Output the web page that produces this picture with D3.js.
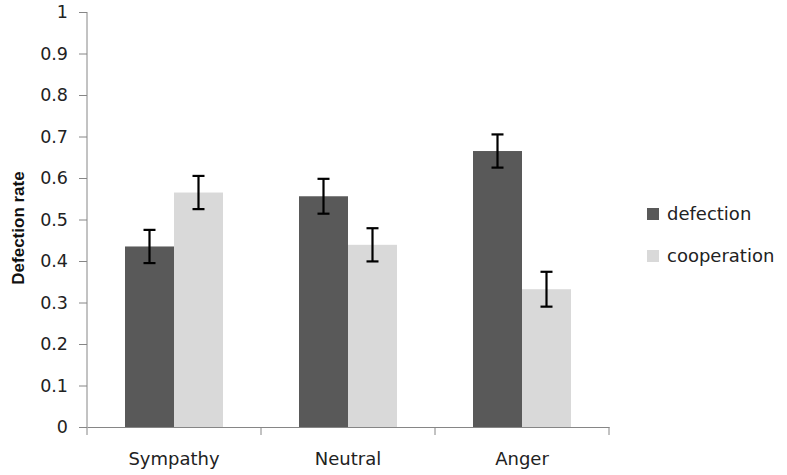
<!DOCTYPE html>
<html><head><meta charset="utf-8">
<script src="https://cdn.jsdelivr.net/npm/d3@7"></script>
<style>body{margin:0;background:#fff}svg{display:block}</style>
</head><body>
<script>
const categories = ["Sympathy", "Neutral", "Anger"];
const seriesNames = ["defection", "cooperation"];
const defection = [0.435, 0.556, 0.665];
const cooperation = [0.565, 0.439, 0.332];
const defectionErr = [0.040, 0.042, 0.040];
const cooperationErr = [0.040, 0.040, 0.042];
const yTicks = [0, 0.1, 0.2, 0.3, 0.4, 0.5, 0.6, 0.7, 0.8, 0.9, 1];
const colors = ["#595959", "#d9d9d9"];

const W = 787, H = 475;
const svg = d3.select("body").append("svg").attr("width", W).attr("height", H);
const x0 = d3.scaleBand().domain(categories).range([87, 609]).paddingInner(0).paddingOuter(0);
const y = d3.scaleLinear().domain([0, 1]).range([427, 12]);
const x1 = d3.scaleBand().domain(seriesNames).range([0, 98]);
const groupOffset = (x0.bandwidth() - 98) / 2;

const data = categories.map((c, i) => ({
  cat: c,
  vals: [
    {s: "defection", v: defection[i], e: defectionErr[i]},
    {s: "cooperation", v: cooperation[i], e: cooperationErr[i]}
  ]
}));

const font = "Verdana, 'DejaVu Sans', sans-serif";
// y axis
const yAxis = d3.axisLeft(y).tickValues(yTicks).tickSize(8).tickPadding(11)
  .tickFormat(d => d === 0 ? "0" : d === 1 ? "1" : d3.format(".1f")(d));
const gy = svg.append("g").attr("transform", "translate(87,0)").call(yAxis);
gy.select(".domain").attr("stroke", "#868686").attr("d", "M0,12V427");
gy.selectAll(".tick line").attr("stroke", "#868686");
gy.selectAll(".tick text").attr("font-family", font).attr("font-size", 17.5).attr("fill", "#222");

// bars
const groups = svg.append("g").selectAll("g").data(data).join("g")
  .attr("transform", d => `translate(${x0(d.cat) + groupOffset},0)`);
groups.selectAll("rect").data(d => d.vals).join("rect")
  .attr("x", d => x1(d.s)).attr("width", x1.bandwidth())
  .attr("y", d => y(d.v)).attr("height", d => y(0) - y(d.v))
  .attr("fill", (d, i) => colors[i]);
// error bars
const eb = groups.selectAll("g.eb").data(d => d.vals).join("g").attr("class", "eb")
  .attr("stroke", "#000").attr("stroke-width", 2.2);
const cx = d => x1(d.s) + x1.bandwidth() / 2;
eb.append("line").attr("x1", cx).attr("x2", cx)
  .attr("y1", d => y(d.v + d.e)).attr("y2", d => y(d.v - d.e));
eb.append("line").attr("x1", d => cx(d) - 6).attr("x2", d => cx(d) + 6)
  .attr("y1", d => y(d.v + d.e)).attr("y2", d => y(d.v + d.e));
eb.append("line").attr("x1", d => cx(d) - 6).attr("x2", d => cx(d) + 6)
  .attr("y1", d => y(d.v - d.e)).attr("y2", d => y(d.v - d.e));

// x axis
const gx = svg.append("g").attr("transform", "translate(0,427)")
  .call(d3.axisBottom(x0).tickSize(0).tickPadding(25));
gx.select(".domain").attr("stroke", "#868686");
gx.selectAll(".tick text").attr("font-family", font).attr("font-size", 18).attr("fill", "#222");
// category boundary ticks
svg.append("g").selectAll("line").data(categories.concat(["end"])).join("line")
  .attr("x1", (d, i) => i < categories.length ? x0(d) : x0.range()[1])
  .attr("x2", (d, i) => i < categories.length ? x0(d) : x0.range()[1])
  .attr("y1", 427).attr("y2", 435).attr("stroke", "#868686");

// y title
svg.append("text").attr("transform", "translate(24,228) rotate(-90)")
  .attr("text-anchor", "middle").attr("font-family", "'Liberation Sans', Arial, sans-serif")
  .attr("font-weight", "bold").attr("font-size", 17).attr("fill", "#111").text("Defection rate");

// legend
const leg = svg.append("g").selectAll("g").data(seriesNames).join("g")
  .attr("transform", (d, i) => `translate(647,${208 + i * 42})`);
leg.append("rect").attr("width", 12).attr("height", 12).attr("fill", (d, i) => colors[i]);
leg.append("text").attr("x", 20).attr("y", 12).attr("font-family", font).attr("font-size", 18)
  .attr("fill", "#222").text(d => d);
</script>
</body></html>
